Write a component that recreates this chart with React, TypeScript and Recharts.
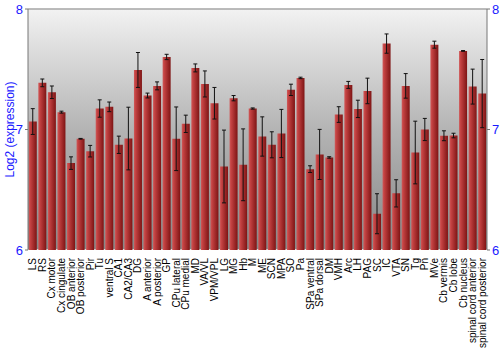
import React from 'react';
import { BarChart, Bar, XAxis, YAxis, CartesianGrid, ErrorBar, ReferenceLine } from 'recharts';

const categories = [
  'LS', 'RS', 'Cx motor', 'Cx cingulate', 'OB anterior', 'OB posterior', 'Pir', 'Tu',
  'ventral S', 'CA1', 'CA2/CA3', 'DG', 'A anterior', 'A posterior', 'GP', 'CPu lateral',
  'CPu medial', 'MD', 'VA/VL', 'VPM/VPL', 'LG', 'MG', 'Hb', 'M', 'ME', 'SCN', 'MPA', 'SO',
  'Pa', 'SPa ventral', 'SPa dorsal', 'DM', 'VMH', 'Arc', 'LH', 'PAG', 'SC', 'IC', 'VTA',
  'SN', 'Tg', 'Pn', 'MVe', 'Cb vermis', 'Cb lobe', 'Cb nucleus', 'spinal cord anterior',
  'spinal cord posterior',
];

const values = [
  7.066, 7.387, 7.309, 7.144, 6.721, 6.923, 6.820, 7.174,
  7.188, 6.873, 6.925, 7.494, 7.282, 7.362, 7.602, 6.923,
  7.047, 7.511, 7.378, 7.218, 6.693, 7.260, 6.707, 7.174, 6.942, 6.873, 6.967, 7.329,
  7.428, 6.671, 6.793, 6.768, 7.124, 7.370, 7.171, 7.320, 6.301, 7.713, 6.470,
  7.362, 6.809, 7.000, 7.704, 6.948, 6.950, 7.652, 7.356,
  7.298,
];

const errors = [
  0.107, 0.032, 0.052, 0.008, 0.052, 0.003, 0.048, 0.072,
  0.040, 0.072, 0.260, 0.145, 0.020, 0.033, 0.022, 0.264,
  0.072, 0.033, 0.108, 0.131, 0.302, 0.022, 0.298, 0.005, 0.163, 0.108, 0.200, 0.047,
  0.006, 0.028, 0.208, 0.006, 0.065, 0.029, 0.072, 0.106, 0.166, 0.080, 0.113,
  0.102, 0.260, 0.092, 0.029, 0.041, 0.019, 0.003, 0.145,
  0.283,
];

const yTicks = [6, 7, 8];

const data = categories.map((name, i) => ({ name, value: values[i], err: errors[i] }));

const BLUE = '#1a1aff';
const FONT = '"Liberation Sans", Arial, sans-serif';

const XTick = (props: any) => {
  const { x, y, payload } = props;
  return (
    <text
      transform={`translate(${x},${y}) rotate(-90)`}
      textAnchor="end"
      dy="0.35em"
      fontSize={10}
      fontFamily={FONT}
      fill="#000"
    >
      {payload.value}
    </text>
  );
};

const YLabel = (props: any) => {
  const { viewBox } = props;
  const cy = viewBox.y + viewBox.height / 2;
  return (
    <text
      transform={`translate(10,${cy}) rotate(-90)`}
      textAnchor="middle"
      dy="0.35em"
      fontSize={12}
      fontFamily={FONT}
      fill={BLUE}
    >
      Log2 (expression)
    </text>
  );
};

export default function App() {
  return (
    <div style={{ position: 'absolute', left: 0, top: 0, width: 500, height: 350, background: '#fff' }}>
      <BarChart
        width={500}
        height={350}
        data={data}
        margin={{ top: 9, right: 0, bottom: 0, left: 0 }}
        barCategoryGap="8%"
      >
        <defs>
          <linearGradient id="bgGrad" x1="0" y1="0" x2="0" y2="1">
            <stop offset="0%" stopColor="#f2f2f2" />
            <stop offset="50%" stopColor="#b4b4b4" />
            <stop offset="100%" stopColor="#868686" />
          </linearGradient>
          <linearGradient id="barGrad" x1="0" y1="0" x2="1" y2="0">
            <stop offset="0%" stopColor="#d05a5a" />
            <stop offset="20%" stopColor="#c44242" />
            <stop offset="100%" stopColor="#7e1414" />
          </linearGradient>
        </defs>
        <CartesianGrid vertical={false} stroke="#ffffff" strokeWidth={1.5} fill="url(#bgGrad)" fillOpacity={1} />
        <XAxis
          dataKey="name"
          interval={0}
          tick={<XTick />}
          tickLine={false}
          axisLine={false}
          height={100}
          tickMargin={2}
        />
        <YAxis
          yAxisId="left"
          orientation="left"
          domain={[6, 8]}
          ticks={yTicks}
          width={28}
          allowDataOverflow
          tick={{ fill: BLUE, fontSize: 13, fontFamily: FONT }}
          tickLine={{ stroke: '#777' }}
          tickSize={3}
          axisLine={{ stroke: '#777' }}
          label={<YLabel />}
        />
        <YAxis
          yAxisId="right"
          orientation="right"
          domain={[6, 8]}
          ticks={yTicks}
          width={13}
          allowDataOverflow
          tick={{ fill: BLUE, fontSize: 13, fontFamily: FONT }}
          tickLine={{ stroke: '#777' }}
          tickSize={3}
          axisLine={{ stroke: '#777' }}
        />
        <ReferenceLine yAxisId="left" y={8} stroke="#777" />
        <Bar yAxisId="left" dataKey="value" fill="url(#barGrad)" isAnimationActive={false}>
          <ErrorBar dataKey="err" width={2} stroke="#111" strokeWidth={1} direction="y" />
        </Bar>
      </BarChart>
    </div>
  );
}
